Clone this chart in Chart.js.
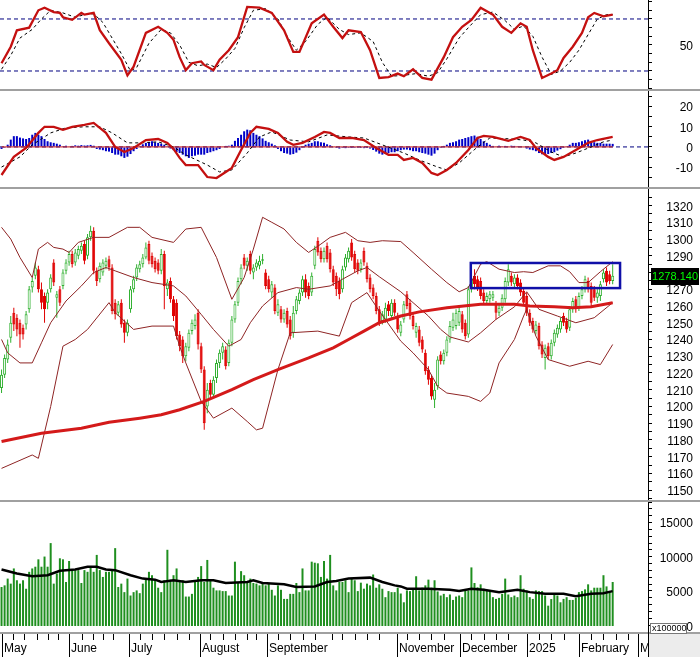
<!DOCTYPE html>
<html>
<head>
<meta charset="utf-8">
<title>VN-Index</title>
<script src="https://cdn.jsdelivr.net/npm/chart.js@4.4.1/dist/chart.umd.min.js"></script>
<style>
body { margin: 0; background: #fff; }
#board { position: relative; width: 700px; height: 657px; overflow: hidden; background: #fff; }
#board canvas { position: absolute; left: 0; }
.sep { position: absolute; left: 0; width: 700px; height: 2px; background: #a0a0a0; }
</style>
</head>
<body>
<div id="board">
  <canvas id="stoch" width="700" height="89" style="top:0"></canvas>
  <canvas id="macd" width="700" height="96" style="top:91px"></canvas>
  <canvas id="price" width="700" height="311" style="top:189px"></canvas>
  <canvas id="vol" width="700" height="155" style="top:502px"></canvas>
  <div class="sep" style="top:89px"></div>
  <div class="sep" style="top:187px"></div>
  <div class="sep" style="top:500px"></div>
</div>
<script>
// ---- data, one entry per trading day (May 2024 .. mid Feb 2025) ----
const N = 200;
const SLOTS = 211;

const openP = [
1211,1219,1228,1241,1256,1253,1250,1247,1249,1258,
1271,1278,1282,1270,1266,1262,1270,1286,1265,1270,
1272,1281,1286,1291,1286,1290,1293,1297,1290,1301,
1305,1281,1276,1280,1284,1288,1283,1262,1256,1262,
1250,1244,1258,1270,1277,1282,1285,1289,1297,1290,
1287,1286,1281,1291,1270,1275,1264,1262,1243,1240,
1230,1235,1245,1248,1256,1236,1222,1200,1214,1207,
1217,1226,1232,1234,1226,1238,1252,1262,1276,1289,
1284,1291,1280,1283,1284,1287,1280,1276,1268,1271,
1256,1258,1252,1257,1252,1244,1257,1263,1268,1276,
1272,1268,1284,1299,1293,1288,1296,1292,1282,1278,
1275,1270,1283,1288,1298,1291,1286,1282,1293,1284,
1277,1271,1266,1258,1251,1252,1261,1254,1262,1254,
1244,1252,1267,1262,1254,1244,1246,1240,1232,1222,
1217,1204,1212,1231,1227,1232,1240,1247,1248,1250,
1255,1250,1243,1270,1278,1276,1275,1268,1263,1264,
1265,1261,1256,1259,1264,1274,1278,1273,1277,1274,
1269,1266,1256,1251,1245,1248,1237,1229,1236,1230,
1238,1243,1246,1254,1251,1247,1258,1264,1259,1266,
1270,1275,1272,1270,1265,1266,1276,1281,1279,1275];

const closeP = [
1219,1229,1237,1250,1249,1246,1243,1243,1255,1270,
1275,1283,1270,1262,1258,1268,1277,1274,1267,1262,
1280,1286,1291,1285,1292,1294,1296,1287,1301,1305,
1281,1275,1284,1286,1287,1283,1257,1255,1261,1249,
1244,1250,1270,1276,1283,1285,1289,1295,1287,1285,
1282,1281,1291,1272,1274,1264,1254,1242,1236,1230,
1236,1244,1250,1252,1237,1222,1190,1210,1207,1216,
1226,1232,1236,1224,1238,1252,1261,1275,1283,1284,
1287,1281,1283,1286,1287,1288,1272,1270,1273,1257,
1261,1252,1256,1249,1242,1256,1264,1268,1276,1268,
1266,1278,1294,1292,1288,1293,1288,1282,1274,1270,
1267,1282,1289,1293,1289,1282,1281,1286,1286,1276,
1270,1266,1257,1250,1255,1259,1257,1262,1256,1246,
1249,1261,1260,1254,1248,1248,1238,1234,1221,1216,
1206,1210,1228,1227,1232,1240,1248,1252,1256,1257,
1246,1242,1270,1276,1273,1271,1266,1263,1266,1267,
1267,1256,1259,1265,1275,1282,1274,1277,1272,1268,
1262,1256,1250,1246,1249,1236,1231,1235,1230,1238,
1244,1247,1251,1250,1246,1258,1263,1258,1266,1270,
1276,1270,1262,1265,1268,1273,1280,1274,1275,1278.14];

const highP = [
1222,1231,1240,1254,1259,1255,1252,1249,1257,1272,
1277,1286,1284,1274,1268,1270,1279,1288,1269,1272,
1282,1288,1293,1293,1294,1296,1298,1299,1303,1308,
1307,1283,1286,1288,1289,1290,1285,1264,1263,1264,
1252,1252,1272,1278,1285,1287,1291,1298,1299,1292,
1289,1288,1294,1293,1276,1277,1266,1264,1245,1242,
1238,1246,1252,1255,1258,1238,1224,1214,1216,1218,
1228,1234,1238,1236,1240,1254,1263,1277,1285,1291,
1289,1293,1285,1288,1290,1291,1282,1278,1275,1273,
1264,1260,1258,1259,1254,1260,1266,1270,1278,1279,
1274,1280,1296,1301,1295,1295,1298,1294,1284,1280,
1277,1284,1291,1295,1300,1293,1288,1288,1295,1286,
1279,1273,1268,1260,1257,1262,1263,1264,1264,1256,
1251,1263,1269,1264,1256,1250,1248,1242,1234,1224,
1219,1214,1230,1233,1234,1242,1251,1256,1258,1260,
1257,1252,1272,1280,1282,1278,1277,1270,1268,1269,
1269,1263,1261,1267,1277,1285,1280,1279,1279,1276,
1271,1268,1258,1253,1251,1250,1239,1237,1238,1240,
1246,1249,1253,1256,1253,1260,1265,1266,1268,1272,
1278,1277,1274,1272,1270,1275,1282,1283,1281,1285];

const lowP = [
1208,1217,1226,1238,1245,1242,1235,1240,1246,1256,
1268,1276,1268,1258,1250,1258,1268,1272,1253,1260,
1270,1279,1284,1283,1284,1288,1291,1285,1288,1299,
1279,1272,1274,1278,1282,1281,1255,1252,1254,1247,
1238,1242,1256,1268,1275,1280,1283,1288,1285,1283,
1280,1279,1279,1258,1266,1262,1251,1240,1233,1226,
1227,1233,1243,1246,1234,1220,1186,1196,1204,1205,
1214,1223,1228,1222,1224,1236,1250,1260,1273,1282,
1281,1279,1276,1281,1282,1285,1270,1268,1265,1255,
1254,1250,1250,1247,1240,1241,1255,1261,1266,1265,
1264,1266,1282,1290,1286,1286,1286,1280,1272,1266,
1264,1268,1281,1286,1287,1280,1279,1280,1284,1274,
1268,1264,1255,1248,1249,1250,1254,1252,1254,1244,
1242,1250,1258,1252,1246,1241,1236,1232,1219,1213,
1204,1199,1210,1225,1225,1230,1238,1245,1246,1248,
1244,1240,1241,1268,1270,1269,1264,1261,1261,1262,
1263,1252,1254,1257,1262,1272,1272,1271,1270,1266,
1260,1254,1248,1244,1243,1234,1229,1222,1228,1228,
1236,1241,1244,1248,1244,1245,1256,1256,1257,1264,
1268,1268,1260,1263,1262,1263,1274,1272,1273,1273];

// volume, in units of 100000 shares
const volume = [
5640,5880,6860,6130,8330,6620,6130,6620,5390,7840,
8330,8580,9650,8580,10050,8580,12000,6130,7600,9800,
9650,6370,9410,8090,8090,8090,6220,8090,7840,8580,
7840,10290,8090,7100,7840,7840,8090,11270,5640,6130,
4900,6860,4410,4900,5150,4750,6130,6860,7840,7350,
6620,5540,4900,6620,11030,6700,7350,8330,6620,6620,
4260,4260,4650,6370,7100,8670,6370,9560,6620,5540,
5150,5150,5050,5050,4410,4410,9310,6370,7940,7350,
6370,6860,6220,6130,5880,6370,5880,6130,5240,4410,
5880,5240,3920,3920,4650,4650,6220,4900,8330,5150,
5150,9310,9160,9070,7100,9410,6860,10290,5880,5150,
6370,6370,6620,4900,6860,6620,5050,6270,5400,6130,
5880,7450,5540,6030,5390,4170,5050,4900,4900,5540,
4700,3430,5150,5050,5240,7200,5150,5540,5880,6710,
5540,6620,5000,4410,4650,4170,4560,3770,4260,4410,
4170,5150,5150,8480,6220,5600,6030,5390,5150,5150,
4170,3920,4070,4650,6860,4560,4170,4400,4170,7350,
5390,5150,4170,3920,5150,5050,5050,4410,2940,3900,
4560,4410,3430,3920,4170,3770,3770,4070,4900,5050,
5300,6030,5150,5540,5540,5540,7350,5730,4900,6370];

const macdHist = [
-1.0,-0.5,1.1,3.6,5.3,5.3,4.6,4.2,3.9,4.4,
6.0,6.9,6.0,5.3,3.9,2.8,2.3,2.0,1.6,1.1,
0.4,0.6,0.3,0.5,0.8,0.6,0.9,0.7,0.8,1.0,
0.6,-1.0,-1.3,-1.6,-2.1,-2.3,-3.0,-3.8,-3.8,-4.6,
-5.4,-4.8,-3.5,-2.1,-1.0,0.5,1.3,2.0,2.3,2.8,
2.3,2.0,1.6,1.1,0.4,-0.8,-1.6,-2.5,-3.0,-3.8,
-4.6,-5.4,-4.6,-4.3,-3.8,-3.8,-3.8,-3.0,-2.6,-2.1,
-1.6,-1.0,0.3,0.5,0.6,1.1,3.0,4.4,6.0,7.7,
8.5,8.2,6.9,6.0,5.3,4.2,3.0,2.3,1.6,0.8,
-1.0,-2.1,-3.0,-3.3,-3.8,-3.5,-2.8,-1.6,-0.4,1.1,
1.6,2.0,2.8,2.8,2.3,2.0,1.3,0.8,-0.3,-0.5,
-0.8,-0.5,-0.6,-0.5,-0.5,-0.5,-0.4,-0.5,-0.6,-0.5,
-0.8,-1.5,-2.3,-3.3,-3.8,-3.5,-3.0,-2.6,-2.6,-2.1,
-1.6,-1.3,-1.3,-1.6,-2.1,-2.1,-2.6,-3.0,-3.3,-3.8,
-4.3,-3.3,-1.6,-0.5,0.5,1.1,2.0,2.3,2.8,3.6,
3.9,4.4,4.8,5.3,5.6,5.0,3.9,2.8,2.0,1.1,
0.5,0.3,0.6,0.4,0.5,0.3,0.6,0.5,0.4,0.3,
-0.3,-0.8,-1.3,-1.6,-2.1,-3.0,-3.6,-3.8,-3.5,-3.0,
-2.6,-1.8,-1.1,-0.5,0.4,1.1,2.0,2.0,2.3,2.8,
3.3,3.6,2.8,2.3,2.0,2.0,1.6,1.6,1.6,1.5];

// indicator lines, read at turning points: [day index, value]
const stochK = [[0,29],[3,48],[5,67],[9,70],[12,90],[14,93],[17,88],[19,87],[20,82],[23,79],[26,87],[27,85],[30,87],[32,67],[35,52],[39,33],[41,15],[43,25],[47,64],[51,71],[54,64],[56,56],[58,36],[60,21],[62,29],[65,31],[66,27],[69,21],[71,33],[74,44],[77,59],[80,94],[84,93],[88,87],[92,67],[95,42],[97,42],[101,75],[105,85],[108,71],[111,58],[113,67],[117,65],[120,44],[123,12],[126,13],[129,17],[131,14],[134,22],[137,12],[140,10],[144,36],[147,59],[150,71],[153,79],[156,93],[160,85],[163,71],[166,64],[169,75],[171,71],[173,44],[176,12],[179,17],[181,21],[183,35],[186,48],[189,64],[191,82],[193,87],[196,83],[199,85]];
const stochD = [[0,22],[3,38],[6,58],[10,68],[13,80],[16,90],[20,87],[24,82],[27,85],[30,86],[33,76],[36,58],[39,40],[42,20],[44,24],[48,52],[52,68],[55,64],[58,50],[61,30],[64,26],[67,28],[70,24],[73,34],[76,46],[79,70],[82,90],[86,92],[90,80],[93,60],[96,44],[99,54],[103,74],[106,82],[110,68],[113,62],[117,64],[121,54],[124,30],[127,14],[131,15],[135,17],[139,14],[142,18],[145,34],[149,58],[152,70],[156,85],[160,88],[164,78],[167,68],[170,72],[173,60],[176,36],[179,16],[182,20],[185,30],[188,44],[191,62],[194,80],[197,85],[199,85]];
const stochLevels = [80, 20];

const macdLine = [[0,-13.8],[4,-4.9],[8,-0.5],[12,6.9],[14,9.9],[17,9.9],[20,8.4],[23,9.9],[27,10.8],[30,11.8],[32,9.4],[34,6.9],[37,0],[40,-2.5],[43,-0.5],[47,3.4],[51,3.9],[54,2],[56,-1],[58,-5.4],[60,-8.9],[64,-8.9],[67,-14.8],[70,-15.3],[73,-12.3],[75,-10.3],[78,-1.5],[81,6.9],[83,9.9],[87,8.9],[90,6.9],[93,2.5],[95,1],[98,2],[102,4.9],[105,7.4],[107,6.9],[110,4.4],[114,4.4],[118,3.4],[122,-0.5],[126,-3.9],[129,-3.9],[131,-6.4],[134,-5.4],[137,-7.9],[140,-12.8],[142,-13.8],[145,-11.3],[148,-7.9],[152,-1.5],[155,4.4],[157,5.4],[160,4.9],[165,3],[169,4.9],[172,3.4],[174,-0.5],[178,-4.9],[180,-6.4],[183,-4.9],[187,-1.5],[191,2],[194,3.4],[199,4.9]];
const macdSignal = [[0,-9.9],[6,-4.9],[10,1],[16,6.9],[21,9.4],[27,9.9],[32,9.9],[36,6.9],[41,2],[45,2],[51,2.5],[56,0],[60,-3.9],[67,-8.9],[71,-12.3],[75,-11.3],[80,-3],[84,4.9],[88,7.4],[94,3.4],[100,2.5],[106,5.9],[113,4.9],[118,4.4],[124,1],[131,-3],[136,-6.4],[142,-9.9],[145,-11.3],[149,-7.9],[155,0],[159,4.4],[165,4],[170,3.4],[174,2],[179,-2.5],[183,-4.9],[187,-3],[192,0],[196,2.5],[199,3.4]];

const bbUpper = [[0,1307],[3,1300],[6,1289],[10,1277],[12,1294],[15,1298],[17,1295],[20,1294],[22,1292],[25,1298],[30,1301],[35,1301],[41,1307],[45,1307],[49,1301],[56,1298],[60,1306],[65,1307],[70,1289],[75,1264],[79,1277],[82,1294],[85,1313],[88,1310],[92,1306],[96,1298],[100,1292],[104,1297],[107,1301],[112,1304],[116,1299],[120,1298],[124,1299],[130,1298.5],[134,1292],[140,1282],[145,1274],[149,1268.5],[152,1271],[156,1285],[158,1286.5],[162,1282],[167,1280],[170,1280.5],[173,1280],[178,1284],[182,1284],[185,1280.5],[188,1274],[191,1274],[195,1280.5],[199,1286.5]];
const bbMiddle = [[0,1240],[2,1232],[6,1226],[10,1226],[13,1238],[16,1250],[21,1263],[26,1272],[30,1280],[34,1283],[37,1281],[43,1277],[49,1274],[56,1272],[60,1266],[65,1255],[69,1246],[74,1236],[78,1240],[81,1250],[85,1260],[90,1268],[96,1271],[100,1270],[107,1272],[111,1276],[116,1281],[119,1283],[123,1277.5],[130,1268.5],[134,1262],[139,1254],[143,1246],[146,1241.5],[152,1238.5],[156,1244],[161,1252],[167,1259.5],[171,1268.5],[175,1258],[181,1254],[187,1250],[193,1253],[199,1262]];
const bbLower = [[0,1163],[10,1171],[12,1169],[16,1200],[20,1236],[24,1240],[28,1246],[35,1262],[37,1256],[43,1246],[49,1248],[56,1248],[58,1236],[60,1226],[65,1203],[69,1193],[75,1199],[80,1191],[83,1186],[85,1187],[90,1222],[94,1244],[103,1245],[110,1242],[114,1262],[119,1268],[123,1257],[130,1239],[134,1232],[139,1222],[142,1212],[145,1208],[152,1206],[156,1203],[159,1208],[162,1226],[167,1240],[170,1254],[171,1258],[174,1242],[178,1228],[185,1224],[191,1227],[195,1225],[199,1237]];
const ma200 = [[0,1179],[13,1184],[26,1187],[35,1190.5],[45,1193],[52,1195],[58,1198],[66,1203],[75,1210],[82,1216],[90,1222],[100,1229],[108,1235],[113,1240],[118,1245],[123,1250],[130,1254],[136,1256.5],[145,1259],[156,1261],[167,1261],[172,1260],[180,1259.5],[186,1259],[192,1259.5],[199,1262]];
const volMA = [[0,8180],[5,7600],[10,7200],[15,7350],[19,8000],[24,8180],[28,8570],[31,8570],[34,8180],[37,8080],[42,7350],[46,6860],[50,6710],[52,6370],[56,6610],[60,6370],[65,6610],[69,6610],[73,6220],[80,6370],[82,6610],[85,6220],[92,6030],[96,5640],[102,5730],[106,6370],[109,6520],[113,6860],[120,7000],[124,6370],[128,5880],[130,5730],[132,5390],[139,5390],[146,5240],[149,5050],[153,5390],[157,5240],[162,4900],[168,5240],[172,4900],[177,4650],[183,4650],[187,4310],[192,4650],[196,4750],[199,5050]];

// box drawn around the recent range: [first day, last day], [low, high]
const boxDays = [152.8, 201.4];
const boxPrices = [1270.7, 1285.7];

// axis labels
const stochLabels = [50];
const macdLabels = [20, 10, 0, -10];
const priceLabels = [1150,1160,1170,1180,1190,1200,1210,1220,1230,1240,1250,1260,1270,1280,1290,1300,1310,1320];
const volLabels = [0, 5000, 10000, 15000];
const monthTicks = [0.2, 22, 41.5, 64.6, 86.5, 128.7, 149.3, 171.1, 187.9, 207.4];
const monthNames = ['May', 'June', 'July', 'August', 'September', 'November', 'December', '2025', 'February', 'March'];
const weekTicks = [3.8, 7.3, 11.4, 15.2, 18.5, 26.1, 29.7, 33.1, 36.4, 45, 49, 53, 57, 61, 68, 72, 76, 80, 83, 90, 94, 98, 102, 107.5, 111, 115, 119, 123, 132, 136, 140, 144, 153, 157, 161, 165, 175, 179, 183, 192, 196, 200, 204];

[openP, closeP, highP, lowP, volume, macdHist].forEach(function (a, k) {
  if (a.length !== N) throw new Error('series ' + k + ' has ' + a.length + ' values');
});

const days = openP.map(function (v, i) { return i; });
const pts = function (pairs) { return pairs.map(function (p) { return {x: p[0], y: p[1]}; }); };
const isUp = function (i) { return closeP[i] >= openP[i]; };

const RED = '#e00000';
const GREEN = '#2fb02f';
const BAND = '#8e2424';
const FONT = 'Arial, "Liberation Sans", sans-serif';

Chart.defaults.font.family = FONT;

// right-hand value labels, right aligned like the original terminal chart
const labelPlugin = {
  id: 'rightLabels',
  afterDraw: function (chart, args, opts) {
    const ctx = chart.ctx, y = chart.scales.y, area = chart.chartArea;
    ctx.save();
    ctx.fillStyle = '#000';
    ctx.font = '12px ' + FONT;
    ctx.textAlign = 'right';
    ctx.textBaseline = 'middle';
    opts.values.forEach(function (v) {
      ctx.fillText(String(v), area.right + 45, Math.round(y.getPixelForValue(v)) + 2);
    });
    ctx.restore();
  }
};

function baseOptions(yMin, yMax, step, labels, padding) {
  return {
    responsive: false,
    animation: false,
    devicePixelRatio: 1,
    layout: {padding: padding || 0},
    plugins: {legend: {display: false}, tooltip: {enabled: false}, rightLabels: {values: labels}},
    scales: {
      x: {type: 'linear', min: -0.5, max: SLOTS - 0.5, offset: false, display: false, grid: {offset: false}},
      y: {
        position: 'right', min: yMin, max: yMax, beginAtZero: false,
        afterFit: function (s) { s.width = 52; s.paddingTop = 0; s.paddingBottom = 0; },
        border: {display: true, color: '#000', width: 1},
        grid: {drawOnChartArea: false, drawTicks: true, tickLength: 4, color: '#000'},
        ticks: {stepSize: step, includeBounds: false, autoSkip: false, display: false}
      }
    }
  };
}

function lineSet(pairs, color, width, dash, order) {
  return {type: 'line', data: pts(pairs), borderColor: color, borderWidth: width,
          borderDash: dash || [], pointRadius: 0, tension: 0, fill: false, order: order};
}

// ---- stochastic ----
new Chart(document.getElementById('stoch'), {
  type: 'line',
  data: {datasets: [
    lineSet(stochK, '#c41010', 2.3, null, 0),
    lineSet(stochD, '#000', 1, [3, 3], 1),
    lineSet([[-0.5, stochLevels[0]], [SLOTS - 0.5, stochLevels[0]]], '#000080', 1, [4, 3], 2),
    lineSet([[-0.5, stochLevels[1]], [SLOTS - 0.5, stochLevels[1]]], '#000080', 1, [4, 3], 2)
  ]},
  options: baseOptions(-0.77, 101.9, 10, stochLabels),
  plugins: [labelPlugin]
});

// ---- MACD ----
new Chart(document.getElementById('macd'), {
  type: 'bar',
  data: {datasets: [
    lineSet(macdLine, '#c41010', 2.3, null, 0),
    lineSet(macdSignal, '#000', 1, [3, 3], 1),
    lineSet([[0, 0], [N - 1, 0]], '#c81414', 1, null, 2),
    {type: 'bar', data: days.map(function (i) { return {x: i, y: macdHist[i]}; }),
     backgroundColor: '#0000c8', barThickness: 2, grouped: false, inflateAmount: 0, order: 3},
    lineSet([[-0.5, 0], [SLOTS - 0.5, 0]], '#000080', 1, [4, 3], 4)
  ]},
  options: baseOptions(-19.7, 27.5, 5, macdLabels),
  plugins: [labelPlugin]
});

// ---- price ----
const pricePlugin = {
  id: 'priceExtras',
  afterDatasetsDraw: function (chart) {
    const ctx = chart.ctx, x = chart.scales.x, y = chart.scales.y;
    const x0 = x.getPixelForValue(boxDays[0]), x1 = x.getPixelForValue(boxDays[1]);
    const y0 = y.getPixelForValue(boxPrices[1]), y1 = y.getPixelForValue(boxPrices[0]);
    ctx.save();
    ctx.strokeStyle = '#1010a8';
    ctx.lineWidth = 2.5;
    ctx.strokeRect(x0, y0, x1 - x0, y1 - y0);
    ctx.restore();
  },
  afterDraw: function (chart) {
    const ctx = chart.ctx, y = chart.scales.y, area = chart.chartArea;
    const last = closeP[N - 1];
    const py = Math.round(y.getPixelForValue(last));
    ctx.save();
    ctx.fillStyle = '#000';
    ctx.fillRect(area.right + 3, py - 8, 48, 17);
    ctx.fillStyle = '#00ff00';
    ctx.font = '11px ' + FONT;
    ctx.textAlign = 'right';
    ctx.textBaseline = 'middle';
    ctx.fillText(last.toFixed(3), area.right + 50, py + 1);
    ctx.restore();
  }
};

new Chart(document.getElementById('price'), {
  type: 'bar',
  data: {datasets: [
    lineSet(ma200, '#d41a1a', 3, null, 0),
    lineSet(bbUpper, BAND, 1, null, 1),
    lineSet(bbMiddle, BAND, 1, null, 1),
    lineSet(bbLower, BAND, 1, null, 1),
    {type: 'bar', data: days.map(function (i) { return {x: i, y: [openP[i], closeP[i]]}; }),
     backgroundColor: function (c) { return isUp(c.dataIndex) ? '#fff' : RED; },
     borderColor: function (c) { return isUp(c.dataIndex) ? GREEN : RED; },
     borderWidth: 1, borderSkipped: false, barThickness: 3, grouped: false, inflateAmount: 0, order: 2},
    {type: 'bar', data: days.map(function (i) { return {x: i, y: [lowP[i], highP[i]]}; }),
     backgroundColor: function (c) { return isUp(c.dataIndex) ? GREEN : RED; },
     barThickness: 1, grouped: false, inflateAmount: 0, order: 3}
  ]},
  options: baseOptions(1144.1, 1329.9, 5, priceLabels),
  plugins: [labelPlugin, pricePlugin]
});

// ---- volume + time axis ----
const axisPlugin = {
  id: 'timeAxis',
  afterDraw: function (chart) {
    const ctx = chart.ctx, x = chart.scales.x, area = chart.chartArea;
    const top = area.bottom, h = chart.height, w = chart.width;
    ctx.save();
    ctx.fillStyle = '#fff';
    ctx.fillRect(0, top, w, h - top);
    ctx.fillStyle = '#a0a0a0';
    ctx.fillRect(0, top, w, 2);
    ctx.strokeStyle = '#000';
    ctx.lineWidth = 1;
    ctx.beginPath();
    weekTicks.forEach(function (v) {
      const px = Math.round(x.getPixelForValue(v)) + 0.5;
      ctx.moveTo(px, top + 2); ctx.lineTo(px, top + 8);
    });
    monthTicks.forEach(function (v) {
      const px = Math.round(x.getPixelForValue(v)) + 0.5;
      ctx.moveTo(px, top + 2); ctx.lineTo(px, h);
    });
    ctx.stroke();
    ctx.fillStyle = '#000';
    ctx.font = '12px ' + FONT;
    ctx.textBaseline = 'alphabetic';
    monthTicks.forEach(function (v, k) {
      ctx.fillText(monthNames[k], Math.round(x.getPixelForValue(v)) + 2, h - 5);
    });
    ctx.fillStyle = '#ececec';
    ctx.fillRect(area.right + 1, top + 2, w - area.right - 1, h - top - 2);
    ctx.fillStyle = '#000';
    ctx.fillRect(area.right, top, 1, h - top);
    // units box over the zero label
    ctx.fillStyle = '#fff';
    ctx.fillRect(area.right + 2, top - 9, 37, 11);
    ctx.strokeStyle = '#777';
    ctx.strokeRect(area.right + 2.5, top - 8.5, 36, 10);
    ctx.fillStyle = '#000';
    ctx.font = '9px ' + FONT;
    ctx.textBaseline = 'middle';
    ctx.fillText('x100000', area.right + 4, top - 3);
    ctx.restore();
  }
};

new Chart(document.getElementById('vol'), {
  type: 'bar',
  data: {datasets: [
    lineSet(volMA, '#000', 2.5, null, 0),
    {type: 'bar', data: days.map(function (i) { return {x: i, y: volume[i]}; }),
     backgroundColor: '#1f8f1f', barThickness: 2, grouped: false, inflateAmount: 0, order: 1}
  ]},
  options: baseOptions(-872, 17950, 1000, volLabels, {bottom: 25}),
  plugins: [labelPlugin, axisPlugin]
});
</script>
</body>
</html>
